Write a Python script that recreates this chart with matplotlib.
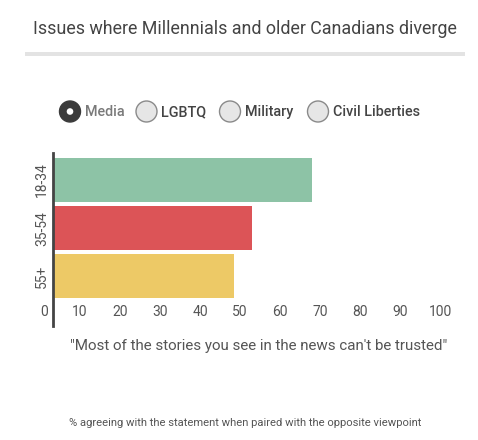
import matplotlib
matplotlib.use("Agg")
import matplotlib.pyplot as plt
from matplotlib.patches import Circle, Rectangle

plt.rcParams['font.family'] = ['Roboto', 'DejaVu Sans']

# ---- data ----
age_groups = ["18-34", "35-54", "55+"]
agree_pct = [68, 53, 48.5]
bar_colors = ["#8dc3a6", "#dc5457", "#edc966"]
x_ticks = [0, 10, 20, 30, 40, 50, 60, 70, 80, 90, 100]
topics = ["Media", "LGBTQ", "Military", "Civil Liberties"]
selected_topic = "Media"
title = "Issues where Millennials and older Canadians diverge"
statement = "\"Most of the stories you see in the news can't be trusted\""
footnote = "% agreeing with the statement when paired with the opposite viewpoint"

W, H = 478, 440
fig = plt.figure(figsize=(W / 100, H / 100), dpi=100)
fig.patch.set_facecolor("white")

# overlay axes in pixel coordinates for the header / legend
ov = fig.add_axes([0, 0, 1, 1])
ov.set_xlim(0, W)
ov.set_ylim(H, 0)
ov.axis("off")

ov.text(245, 29, title, ha="center", va="center", fontsize=12.9, color="#444444")
ov.add_patch(Rectangle((25, 52.5), 440, 3.5, facecolor="#e3e3e3", edgecolor="none"))

circle_x = [70, 146.5, 230, 318]
for name, cx in zip(topics, circle_x):
    if name == selected_topic:
        ov.add_patch(Circle((cx, 111.5), 10.5, facecolor="#3b3b3b", edgecolor="#3b3b3b", lw=1))
        ov.add_patch(Circle((cx, 111.5), 3.3, facecolor="white", edgecolor="none"))
        col = "#7a7a7a"
    else:
        ov.add_patch(Circle((cx, 111.5), 10.5, facecolor="#e6e6e6", edgecolor="#8a8a8a", lw=1))
        col = "#444444"
    ov.text(cx + 15, 112, name, ha="left", va="center", fontsize=10.4, color=col,
            fontweight="medium")

ov.text(259, 346, statement, ha="center", va="center", fontsize=10.9, color="#555555")
ov.text(245, 423, footnote, ha="center", va="center", fontsize=8.15, color="#555555")

# ---- bar chart ----
left_px, right_px, top_px, bot_px = 53, 440, 153, 326
ax = fig.add_axes([left_px / W, 1 - bot_px / H, (right_px - left_px) / W, (bot_px - top_px) / H])
ypos = list(range(len(age_groups)))
ax.barh(ypos, agree_pct, height=0.91, color=bar_colors, zorder=1)
ax.set_xlim(3.25, 100)
ax.set_ylim(3.03, -0.56)

for s in ["top", "right", "bottom"]:
    ax.spines[s].set_visible(False)
ax.spines["left"].set_color("#444444")
ax.spines["left"].set_linewidth(2)
ax.spines["left"].set_zorder(3)

ax.set_yticks(ypos)
ax.set_yticklabels(age_groups, rotation=90, va="center", fontsize=10, color="#555555")
ax.tick_params(axis="y", length=0, pad=3)

vis_ticks = [t for t in x_ticks if t > 3.25]
ax.set_xticks(vis_ticks)
ax.set_xticklabels([str(t) for t in vis_ticks], fontsize=10, color="#555555")
ax.tick_params(axis="x", length=0, pad=-15)
# "0" label lies left of the visible axis start
ax.text(x_ticks[0], 0, str(x_ticks[0]), transform=ax.get_xaxis_transform(), clip_on=False,
        ha="left", va="center", fontsize=10, color="#555555")

ax.set_facecolor("none")
fig.canvas.draw()
# align the manual 0 label vertically with the other tick labels
lbl = ax.get_xticklabels()[0]
bb = lbl.get_window_extent()
cy = (bb.y0 + bb.y1) / 2
y_axes = ax.transAxes.inverted().transform((0, cy))[1]
ax.texts[-1].set_y(y_axes)

fig.savefig("out.png", dpi=100, facecolor="white")
